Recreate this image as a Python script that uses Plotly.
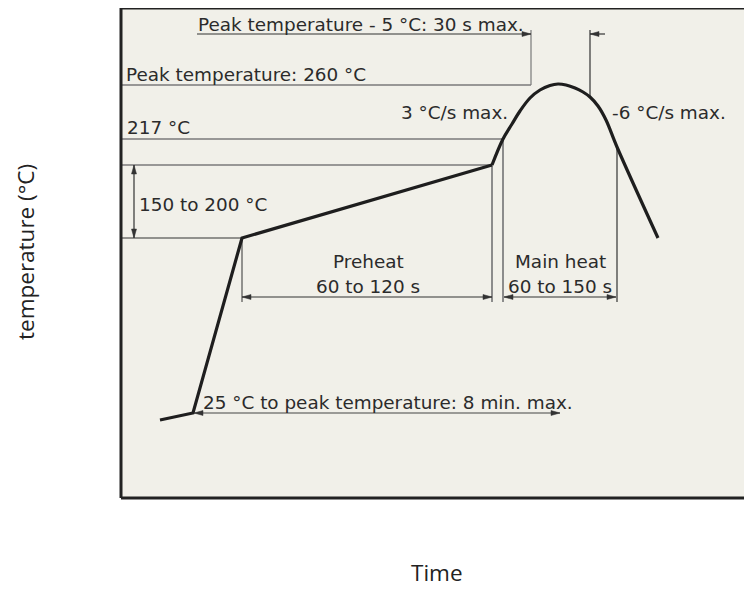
import plotly.graph_objects as go

# ---- schematic data (diagram units: time along x, temperature along y) ----
ramp_time = [39, 72, 121, 371]
ramp_temp = [78, 85, 260, 333]
peak_time = [371, 382, 391, 399, 409, 419, 429, 437, 445, 454, 462, 469, 477, 485, 496, 537]
peak_temp = [333, 359, 374, 387, 400, 408, 412.5, 414, 413, 410, 406, 401, 392, 378, 351, 260]

level_peak = 413      # Peak temperature: 260 °C
level_217 = 359       # 217 °C
level_200 = 333       # 200 °C
level_150 = 260       # 150 °C
level_25 = 85         # 25 °C
level_peak5 = 464     # Peak temperature - 5 °C

t_start25 = 72
t_preheat_start = 121
t_preheat_end = 371
t_main_start = 382
t_main_end = 496
t_peak5_start = 410
t_peak5_end = 469
t_8min_end = 439
dim_row = 201
dim_bottom = 196

FONT = "DejaVu Sans"
FS = 18.4
TXT = "#2b2b2b"
DARK = "#333333"
GRAY = "#7a7a7a"
LGRAY = "#8c8c8c"

fig = go.Figure()
fig.add_trace(go.Scatter(x=ramp_time, y=ramp_temp, mode="lines",
                         line=dict(color="#1e1e1e", width=3.2), hoverinfo="skip"))
fig.add_trace(go.Scatter(x=peak_time, y=peak_temp, mode="lines",
                         line=dict(color="#1e1e1e", width=3.2, shape="spline", smoothing=1.0),
                         hoverinfo="skip"))

shapes = []
def seg(x0, y0, x1, y1, color=DARK, width=1.2):
    shapes.append(dict(type="line", xref="x", yref="y", x0=x0, y0=y0, x1=x1, y1=y1,
                       line=dict(color=color, width=width), layer="below"))

def head(x, y, d, color=DARK, length=9, half=2.5):
    if d == "r":
        p = f"M{x},{y} L{x-length},{y+half} L{x-length},{y-half} Z"
    elif d == "l":
        p = f"M{x},{y} L{x+length},{y+half} L{x+length},{y-half} Z"
    elif d == "u":
        p = f"M{x},{y} L{x-half},{y-length} L{x+half},{y-length} Z"
    else:
        p = f"M{x},{y} L{x-half},{y+length} L{x+half},{y+length} Z"
    shapes.append(dict(type="path", xref="x", yref="y", path=p,
                       fillcolor=color, line=dict(color=color, width=0.5), layer="above"))

# horizontal level lines
seg(0, level_peak, t_peak5_start, level_peak, GRAY, 1.5)
seg(0, level_217, t_main_start, level_217, GRAY, 1.5)
seg(0, level_200, t_preheat_end, level_200, GRAY, 1.5)
seg(0, level_150, t_preheat_start, level_150, DARK, 1.2)

# 150-200 vertical dimension
seg(13, level_150, 13, level_200, DARK, 1.2)
head(13, level_200, "u")
head(13, level_150, "d")

# peak-5 dimension
seg(t_peak5_start, level_peak, t_peak5_start, level_peak5 + 4, GRAY, 1.2)
seg(t_peak5_end, 401, t_peak5_end, level_peak5 + 4, DARK, 1.2)
seg(76, level_peak5, t_peak5_start, level_peak5, DARK, 1.2)
head(t_peak5_start, level_peak5, "r")
seg(t_peak5_end, level_peak5, t_peak5_end + 15, level_peak5, DARK, 1.2)
head(t_peak5_end, level_peak5, "l")

# preheat
seg(t_preheat_start, level_150, t_preheat_start, dim_bottom, DARK, 1.0)
seg(t_preheat_end, level_200, t_preheat_end, dim_bottom, LGRAY, 2)
seg(t_preheat_start, dim_row, t_preheat_end, dim_row, DARK, 1.2)
head(t_preheat_start, dim_row, "l")
head(t_preheat_end, dim_row, "r")

# main heat
seg(t_main_start, level_217, t_main_start, dim_bottom, LGRAY, 2)
seg(t_main_end, 351, t_main_end, dim_bottom, DARK, 1.2)
seg(t_main_start + 1, dim_row, t_main_end - 1, dim_row, DARK, 1.2)
head(t_main_start + 1, dim_row, "l")
head(t_main_end - 1, dim_row, "r")

# 25 °C to peak
seg(t_start25, level_25, t_8min_end, level_25, "#444444", 1.2)
head(t_start25 + 1, level_25, "l")
head(t_8min_end, level_25, "r")

# plot border (left, top, bottom)
for (x0, y0, x1, y1) in [(0, 0, 0, 1), (0, 1, 1, 1), (0, 0, 1, 0)]:
    shapes.append(dict(type="line", xref="paper", yref="paper", x0=x0, y0=y0, x1=x1, y1=y1,
                       line=dict(color="#222222", width=3), layer="above"))

anns = []
def txt(x, y, s, xanchor="left"):
    anns.append(dict(x=x, y=y, xref="x", yref="y", text=s, showarrow=False,
                     xanchor=xanchor, yanchor="middle",
                     font=dict(family=FONT, size=FS, color=TXT)))

txt(75, 474, "Peak temperature - 5 °C: 30 s max.")
txt(3, 424, "Peak temperature: 260 °C")
txt(4, 371, "217 °C")
txt(278, 386, "3 °C/s max.")
txt(489, 386, "-6 °C/s max.")
txt(16, 294, "150 to 200 °C")
txt(247, 237, "Preheat", "center")
txt(247, 212, "60 to 120 s", "center")
txt(439, 237, "Main heat", "center")
txt(439, 212, "60 to 150 s", "center")
txt(80, 96, "25 °C to peak temperature: 8 min. max.")

# layout geometry (page has an 8 px body offset)
OFF = 8
W, H = 752 - OFF, 589 - OFF
ML, MT, MB, MR = 113, 0, 91, 0
pw, ph = W - ML - MR, H - MT - MB

def paper_xy(page_x, page_y):
    fx, fy = page_x - OFF, page_y - OFF
    return (fx - ML) / pw, (H - MB - fy) / ph

ax_font = dict(family="Open Sans", size=22.5, color="#222222")
px_, py_ = paper_xy(25, 252)
anns.append(dict(x=px_, y=py_, xref="paper", yref="paper", text="temperature (°C)",
                 showarrow=False, textangle=-90, xanchor="center", yanchor="middle",
                 font=ax_font))
px_, py_ = paper_xy(437, 572)
anns.append(dict(x=px_, y=py_, xref="paper", yref="paper", text="Time",
                 showarrow=False, xanchor="center", yanchor="middle", font=ax_font))

fig.update_layout(
    width=W, height=H, margin=dict(l=ML, r=MR, t=MT, b=MB, pad=0),
    paper_bgcolor="white", plot_bgcolor="#f1f0e9",
    showlegend=False, shapes=shapes, annotations=anns,
    xaxis=dict(range=[0, pw], visible=False, fixedrange=True),
    yaxis=dict(range=[0, ph], visible=False, fixedrange=True),
)
fig.write_html("out.html")
